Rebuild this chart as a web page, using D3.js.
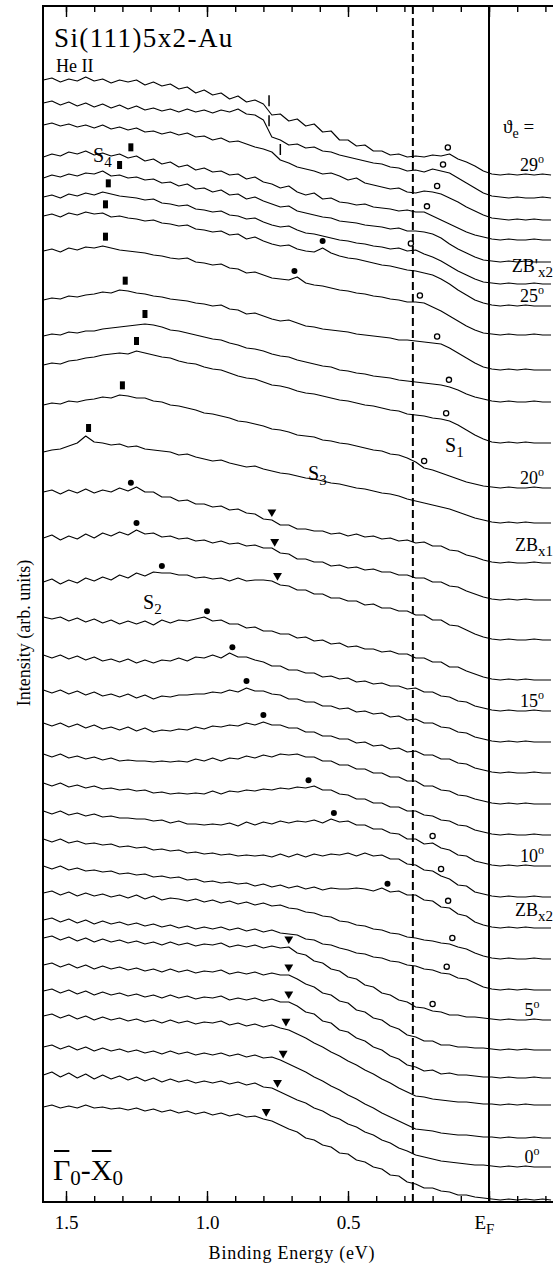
<!DOCTYPE html>
<html>
<head>
<meta charset="UTF-8">
<title>Si(111)5x2-Au He II</title>
<script src="https://cdn.jsdelivr.net/npm/d3@7"></script>
<style>
  body { margin: 0; background: #fff; }
  svg text { font-family: "Liberation Serif", "Times New Roman", Times, "DejaVu Serif", serif; fill: #000; }
</style>
</head>
<body>
<svg id="chart" width="553" height="1267"></svg>
<script>

// binding energy grid (eV) shared by every spectrum
var energies = [1.58,1.55,1.52,1.49,1.46,1.43,1.40,1.37,1.34,1.31,1.28,1.25,1.22,1.19,1.16,1.13,1.10,1.07,1.04,1.01,
                0.98,0.95,0.92,0.89,0.86,0.83,0.80,0.77,0.74,0.71,0.68,0.65,0.62,0.59,0.56,0.53,0.50,0.47,0.44,0.41,
                0.38,0.35,0.32,0.29,0.26,0.23,0.20,0.17,0.14,0.11,0.08,0.05,0.02,-0.01,-0.04,-0.07,-0.10,-0.13,-0.16,-0.19,
                -0.22];

// intensity above each spectrum's own background, top spectrum first
var spectra = [
  [95,97,93,96,94,98,94,96,92,95,93,95,90,93,89,91,86,88,82,85,80,82,76,79,73,75,71,60,61,54,56,49,51,43,44,35,35,29,30,24,24,20,21,18,19,18,20,19,21,16,13,9,4,1,0,1,0,1,0,1,0],
  [95,97,93,96,92,95,91,94,90,93,89,92,88,90,87,89,86,89,86,88,85,88,86,89,84,83,78,61,58,53,54,50,51,47,46,43,41,39,37,35,34,31,30,27,28,26,29,27,25,20,15,10,5,2,1,0,1,0,0,1,0],
  [95,97,94,96,93,95,92,95,91,93,90,92,88,89,86,88,85,87,83,84,80,82,78,79,76,73,71,68,60,57,53,51,49,46,47,44,40,42,37,35,33,31,32,28,27,29,28,26,22,18,13,9,5,2,1,0,1,0,1,0,0],
  [83,86,84,88,86,89,85,87,84,86,82,84,79,81,76,78,73,75,70,72,68,69,65,66,61,63,58,56,52,54,48,45,47,41,42,38,37,35,36,33,32,31,29,30,28,28,24,20,16,12,8,5,3,1,0,1,0,0,1,0,0],
  [84,87,85,88,86,89,88,91,86,87,84,85,82,83,79,80,76,78,73,74,70,72,67,68,63,65,61,58,55,56,51,49,47,45,44,41,40,39,37,36,35,33,34,31,31,30,28,24,18,13,9,5,2,1,0,1,0,1,0,0,0],
  [87,89,86,90,88,91,89,92,90,88,87,86,84,85,81,80,78,79,75,74,72,73,69,68,65,66,62,59,57,58,54,51,50,48,46,44,43,41,40,38,37,35,36,33,34,30,27,23,18,13,9,5,2,1,0,1,0,0,1,0,0],
  [90,92,89,93,91,94,92,93,89,90,88,87,85,86,83,82,80,81,77,76,74,75,71,72,67,69,65,62,60,61,57,55,54,58,53,50,48,47,45,43,41,40,38,36,35,33,31,27,22,16,11,6,3,1,0,1,0,1,0,0,0],
  [84,86,83,87,85,88,87,89,87,85,84,83,82,80,79,77,76,77,73,72,70,71,67,66,62,63,60,57,56,55,58,52,50,49,47,45,44,42,41,39,38,36,35,33,33,32,28,24,19,14,9,5,2,1,0,1,0,0,1,0,0],
  [70,72,71,74,73,75,76,78,77,80,79,77,76,74,73,71,70,69,67,66,64,65,61,60,56,57,54,51,49,50,47,44,43,41,40,39,38,36,35,34,33,32,30,30,29,28,27,26,22,17,12,7,3,1,0,1,0,1,0,0,0],
  [66,68,67,70,69,71,71,73,74,75,76,77,78,77,75,72,71,69,67,65,63,62,59,57,54,53,51,48,46,45,42,40,38,36,35,32,31,29,28,26,25,24,22,21,20,19,18,17,15,12,8,5,3,1,0,1,0,0,1,0,0],
  [78,80,79,82,83,85,86,88,89,90,89,92,90,88,86,85,82,80,79,76,74,73,70,67,65,64,61,58,57,55,52,50,49,47,45,43,42,40,38,37,35,33,32,29,28,27,25,24,22,18,13,8,4,1,0,1,0,1,0,0,0],
  [83,85,84,87,86,88,89,91,90,93,92,90,90,87,86,83,82,80,78,75,74,72,70,67,66,64,62,59,58,56,53,52,51,48,47,45,44,42,40,38,37,34,33,30,26,20,18,15,12,9,6,4,2,1,0,1,0,0,1,0,0],
  [71,73,74,77,80,87,81,80,78,79,76,77,74,73,72,71,68,69,66,64,62,63,60,58,56,57,54,52,50,49,47,45,44,42,40,39,37,35,34,32,30,29,27,24,22,20,18,16,14,11,8,5,3,1,0,1,0,1,0,0,0],
  [71,73,69,73,70,74,70,73,71,75,72,76,71,71,66,66,62,63,59,59,56,57,53,54,50,49,44,43,38,38,34,34,32,32,29,30,27,29,26,27,24,25,22,23,20,21,17,17,13,12,8,6,3,1,0,1,0,0,1,0,0],
  [62,65,60,64,61,66,62,67,64,68,65,70,66,67,63,64,61,62,59,60,57,59,56,57,54,55,52,52,47,46,41,41,38,38,34,35,32,33,30,31,28,28,25,25,22,22,18,18,14,13,9,6,3,1,0,1,0,1,0,0,0],
  [58,61,56,60,57,62,59,63,60,65,62,67,64,68,67,67,65,65,62,63,61,62,59,62,59,60,60,59,55,54,50,50,46,46,42,42,39,39,35,36,32,32,29,29,25,25,20,20,15,14,10,6,3,1,0,1,0,0,1,0,0],
  [63,61,63,59,62,58,61,57,60,56,59,56,59,55,60,57,60,59,61,63,59,60,56,56,52,53,49,49,46,46,42,43,39,40,36,37,33,34,31,31,28,29,26,26,22,22,18,18,13,13,9,6,3,1,0,1,0,1,0,0,0],
  [56,53,56,52,55,51,54,50,52,49,52,48,51,48,51,50,53,50,54,53,56,53,58,54,54,51,49,45,45,41,41,38,38,34,35,32,33,29,30,27,28,25,25,22,23,19,19,15,14,10,9,5,3,1,0,1,0,0,1,0,0],
  [52,49,52,48,51,47,50,46,48,45,48,44,47,43,46,45,47,47,48,48,50,49,52,50,54,51,51,48,47,43,43,40,40,36,36,33,34,30,31,28,29,25,26,22,23,19,19,15,14,10,9,5,3,1,0,1,0,1,0,0,0],
  [50,47,50,46,49,45,48,44,46,43,46,42,45,41,43,42,44,43,46,44,47,46,48,47,50,48,51,48,48,45,45,41,41,37,37,34,34,30,31,27,28,24,25,21,22,18,18,14,14,10,9,5,3,1,0,1,0,0,1,0,0],
  [50,47,50,46,48,45,47,44,46,43,44,43,43,42,43,42,43,42,45,43,46,43,46,45,48,46,49,47,50,49,50,47,47,43,43,39,39,35,35,31,31,27,27,23,23,18,18,14,13,9,8,5,3,1,0,1,0,1,0,0,0],
  [52,49,52,48,50,47,49,46,47,45,46,44,45,42,43,41,42,41,42,41,44,41,44,43,45,44,46,45,47,46,48,47,49,45,45,41,40,36,36,32,32,28,28,24,24,20,19,15,14,10,9,5,3,1,0,1,0,0,1,0,0],
  [55,52,55,51,53,50,52,49,50,48,48,47,47,45,46,43,45,42,42,41,42,41,43,40,44,41,44,42,45,43,45,44,46,43,47,44,45,41,41,37,37,33,32,27,27,22,23,18,16,11,10,5,3,1,0,1,0,1,0,0,0],
  [58,55,58,54,56,53,54,52,53,50,51,49,50,47,48,46,47,44,45,43,44,42,43,41,42,41,42,40,43,40,43,40,43,41,43,42,44,41,44,41,42,38,38,33,32,27,26,21,18,12,11,5,3,1,0,1,0,0,1,0,0],
  [62,59,62,58,60,57,58,56,57,54,55,53,54,51,52,50,51,48,49,46,47,45,46,44,45,42,44,41,43,40,42,39,41,38,40,39,39,40,39,37,40,36,37,33,33,28,27,21,20,14,12,6,3,1,0,1,0,1,0,0,0],
  [66,68,64,67,63,66,63,65,62,64,61,64,60,63,59,61,60,58,60,57,59,56,58,55,57,54,56,53,54,51,50,47,46,43,42,38,37,34,33,30,29,26,25,22,21,19,18,16,15,12,10,6,3,1,0,1,0,0,1,0,0],
  [70,72,68,71,67,70,66,69,66,68,65,67,64,66,63,65,62,64,61,63,61,63,60,62,59,61,58,60,57,56,55,51,50,46,45,42,40,37,36,33,32,29,28,25,24,21,20,17,16,12,11,7,3,1,0,1,0,1,0,0,0],
  [82,84,80,83,79,82,78,81,78,80,77,79,76,78,75,78,75,77,74,76,75,77,73,75,73,75,72,74,72,73,67,65,59,57,51,49,43,41,35,33,27,25,20,18,13,12,9,8,5,5,3,3,2,1,0,1,0,0,1,0,0],
  [85,87,83,86,82,85,81,84,81,83,80,82,79,81,78,81,78,80,77,79,78,80,76,78,76,78,75,77,75,75,71,66,63,57,55,49,47,40,38,32,30,24,21,15,13,9,9,5,5,3,3,2,2,1,0,1,0,1,0,0,0],
  [87,89,85,88,84,87,83,86,83,85,82,84,81,83,80,83,80,82,79,81,80,82,78,80,78,80,77,79,76,76,72,66,64,57,55,48,46,40,37,31,28,22,19,13,11,7,8,4,5,3,3,2,1,1,0,1,0,0,1,0,0],
  [89,91,87,90,86,89,85,88,85,87,84,86,83,85,82,85,82,84,81,83,82,84,80,82,79,81,78,80,77,75,71,67,62,58,53,49,44,40,35,31,26,22,17,13,9,8,6,5,4,3,3,2,1,1,0,1,0,1,0,0,0],
  [91,93,89,92,88,91,87,90,87,89,86,88,85,87,84,87,84,86,83,85,83,85,82,84,81,83,80,81,78,74,70,66,61,57,52,48,43,39,34,30,25,21,17,13,9,8,7,5,4,3,3,2,1,1,0,1,0,0,1,0,0],
  [92,95,90,94,89,93,88,92,88,91,87,90,86,89,85,88,85,87,84,86,84,86,83,85,82,84,80,79,75,71,67,64,59,56,51,48,43,40,35,32,27,24,19,16,12,10,8,6,5,4,3,2,2,1,0,1,0,1,0,0,0],
  [93,95,92,94,92,95,92,93,91,92,90,92,89,91,88,90,87,89,86,88,85,87,84,86,83,84,81,79,75,71,68,62,60,55,53,47,46,40,38,33,31,25,24,18,16,12,12,9,8,5,5,3,2,1,0,1,0,1,0,1,0]
];

// vertical stacking offset of each spectrum (arb. units)
var offsets = [1027,1004,982,962,940,918,896,867,832,800,759,714,679,639,602,562,522,491,460,429,
               398,367,336,305,274,243,212,182,152,124,97,64,35,2];

// feature markers: spectrum number (1 = top) and binding energy
var s4Curve = [4,5,6,7,8,9,10,11,12,13];
var s4Energy = [1.27,1.31,1.35,1.36,1.36,1.29,1.22,1.25,1.30,1.42];
var s1Curve = [1,2,3,4,6,8,9,10,11,12,23,24,25,26,27,28];
var s1Energy = [0.146,0.163,0.184,0.22,0.277,0.245,0.184,0.142,0.152,0.23,0.20,0.17,0.145,0.13,0.15,0.20];
var s2Curve = [7,8,14,15,16,17,18,19,20,22,23,25];
var s2Energy = [0.59,0.69,1.27,1.25,1.16,1.00,0.91,0.86,0.80,0.64,0.55,0.36];
var s3Curve = [14,15,16,28,29,30,31,32,33,34];
var s3Energy = [0.77,0.76,0.75,0.71,0.71,0.71,0.72,0.73,0.75,0.79];
var barCurve = [1,2,3];
var barEnergy = [0.78,0.78,0.74];

// emission angle labels on the right
var angleText = ["29","ZB'","25","20","ZB","15","10","ZB","5","0"];
var angleSub = ["","x2","","","x1","","","x2","",""];
var angleCurve = [1,6,7,12,14,18,23,25,28,33];

var majorTicks = [1.5,1.0,0.5,0];
var minorTicks = [1.5,1.4,1.3,1.2,1.1,1.0,0.9,0.8,0.7,0.6,0.5,0.4,0.3,0.2,0.1,0,-0.1,-0.2];
var dashedEnergy = 0.27;

var svg = d3.select("#chart");
var frameL = 43, frameR = 552, frameT = 6, frameB = 1202;

var x = d3.scaleLinear().domain([1.5, 0]).range([66, 489]);
var y = d3.scaleLinear().domain([0, 1200]).range([1202, 2]);

svg.append("defs").append("clipPath").attr("id", "plotclip")
  .append("rect").attr("x", frameL).attr("y", frameT).attr("width", frameR - frameL).attr("height", frameB - frameT);

// spectra
var line = d3.line()
  .x(function (d, i) { return x(energies[i]); })
  .y(function (d) { return y(d); });

svg.append("g").attr("clip-path", "url(#plotclip)")
  .selectAll("path")
  .data(spectra)
  .enter().append("path")
  .attr("d", function (s, k) { return line(s.map(function (v) { return v + offsets[k]; })); })
  .attr("fill", "none")
  .attr("stroke", "#000")
  .attr("stroke-width", 1.1)
  .attr("stroke-linejoin", "round");

// level of spectrum k (1-based) at energy e, in pixels
function levelY(k, e) {
  var s = spectra[k - 1];
  for (var i = 0; i < energies.length - 1; i++) {
    if (e <= energies[i] && e >= energies[i + 1]) {
      var t = (energies[i] - e) / (energies[i] - energies[i + 1]);
      return y(offsets[k - 1] + s[i] + t * (s[i + 1] - s[i]));
    }
  }
  return y(offsets[k - 1] + s[0]);
}

// reference lines
svg.append("line")
  .attr("x1", x(dashedEnergy)).attr("x2", x(dashedEnergy))
  .attr("y1", frameT).attr("y2", frameB)
  .attr("stroke", "#000").attr("stroke-width", 2).attr("stroke-dasharray", "8,4");
svg.append("line")
  .attr("x1", x(0)).attr("x2", x(0))
  .attr("y1", frameT).attr("y2", frameB)
  .attr("stroke", "#000").attr("stroke-width", 2);

// markers
var marks = svg.append("g");
s4Curve.forEach(function (k, j) {
  marks.append("rect")
    .attr("x", x(s4Energy[j]) - 2.5).attr("y", levelY(k, s4Energy[j]) - 14)
    .attr("width", 5).attr("height", 8).attr("fill", "#000");
});
s1Curve.forEach(function (k, j) {
  marks.append("circle")
    .attr("cx", x(s1Energy[j])).attr("cy", levelY(k, s1Energy[j]) - 7)
    .attr("r", 2.6).attr("fill", "#fff").attr("stroke", "#000").attr("stroke-width", 1.3);
});
s2Curve.forEach(function (k, j) {
  marks.append("circle")
    .attr("cx", x(s2Energy[j])).attr("cy", levelY(k, s2Energy[j]) - 7)
    .attr("r", 3).attr("fill", "#000");
});
var tri = d3.symbol().type(d3.symbolTriangle).size(34);
s3Curve.forEach(function (k, j) {
  marks.append("path")
    .attr("d", tri())
    .attr("transform", "translate(" + x(s3Energy[j]) + "," + (levelY(k, s3Energy[j]) - 8) + ") rotate(180)")
    .attr("fill", "#000");
});
barCurve.forEach(function (k, j) {
  var yy = levelY(k, barEnergy[j]);
  marks.append("line")
    .attr("x1", x(barEnergy[j])).attr("x2", x(barEnergy[j]))
    .attr("y1", yy - 16).attr("y2", yy - 5)
    .attr("stroke", "#000").attr("stroke-width", 1.5);
});

// frame
svg.append("rect")
  .attr("x", frameL).attr("y", frameT).attr("width", frameR - frameL + 4).attr("height", frameB - frameT)
  .attr("fill", "none").attr("stroke", "#000").attr("stroke-width", 2);

// axes (ticks inside the frame)
var minorAxis = d3.axisBottom(x).tickValues(minorTicks).tickSize(-6).tickFormat("");
var majorAxis = d3.axisBottom(x).tickValues(majorTicks).tickSize(-11).tickPadding(14)
  .tickFormat(function (d) { return d === 0 ? "" : d3.format(".1f")(d); });

svg.append("g").attr("transform", "translate(0," + frameB + ")").call(minorAxis);
var gx = svg.append("g").attr("transform", "translate(0," + frameB + ")").call(majorAxis);
svg.append("g").attr("transform", "translate(0," + frameT + ")")
  .call(d3.axisTop(x).tickValues(minorTicks).tickSize(-6).tickFormat(""));
svg.append("g").attr("transform", "translate(0," + frameT + ")")
  .call(d3.axisTop(x).tickValues(majorTicks).tickSize(-11).tickFormat(""));

svg.selectAll(".domain").remove();
svg.selectAll(".tick line").attr("stroke", "#000").attr("stroke-width", 1.4);
svg.selectAll("g").attr("font-family", null);
gx.selectAll("text").attr("font-size", 19);
var ef = gx.selectAll(".tick").filter(function (d) { return d === 0; }).select("text")
  .attr("text-anchor", "start").attr("x", -15);
ef.append("tspan").text("E");
ef.append("tspan").attr("font-size", 15).attr("dy", 5).text("F");

// axis titles
svg.append("text")
  .attr("x", 292).attr("y", 1259)
  .attr("text-anchor", "middle").attr("font-size", 18).attr("letter-spacing", 0.8)
  .text("Binding Energy (eV)");
svg.append("text")
  .attr("transform", "translate(30,633) rotate(-90)")
  .attr("text-anchor", "middle").attr("font-size", 18)
  .text("Intensity (arb. units)");

// title block
svg.append("text").attr("x", 54).attr("y", 47).attr("font-size", 27).attr("letter-spacing", 1.4)
  .text("Si(111)5x2-Au");
svg.append("text").attr("x", 56).attr("y", 72).attr("font-size", 18).text("He II");

// theta_e =
var th = svg.append("text").attr("x", 503).attr("y", 133).attr("font-size", 19);
th.append("tspan").text("\u03D1");
th.append("tspan").attr("font-size", 14).attr("dy", 5).text("e");
th.append("tspan").attr("dy", -5).text(" =");

// angle labels
angleText.forEach(function (t, j) {
  var yy = y(offsets[angleCurve[j] - 1]);
  var lab = svg.append("text").attr("font-size", 18);
  if (angleSub[j] === "") {
    lab.attr("x", 532).attr("y", yy - 4).attr("text-anchor", "middle");
    lab.append("tspan").text(t);
    lab.append("tspan").attr("font-size", 12).attr("dy", -8).text("o");
  } else {
    lab.attr("x", 553).attr("y", yy - 12).attr("text-anchor", "end");
    lab.append("tspan").text(t);
    lab.append("tspan").attr("font-size", 15).attr("dy", 5).text(angleSub[j]);
  }
});

// state labels
function stateLabel(xp, yp, n) {
  var t = svg.append("text").attr("x", xp).attr("y", yp).attr("font-size", 20);
  t.append("tspan").text("S");
  t.append("tspan").attr("font-size", 15).attr("dy", 5).text(n);
}
stateLabel(93, 162, "4");
stateLabel(445, 452, "1");
stateLabel(308, 480, "3");
stateLabel(143, 609, "2");

// Gamma0 - X0 direction label with overbars
var px = 53, base = 1180;
function piece(str, size, dy, bar) {
  var t = svg.append("text").attr("x", px).attr("y", base + dy).attr("font-size", size).text(str);
  var w = t.node().getComputedTextLength();
  if (bar) {
    svg.append("line").attr("x1", px + 1).attr("x2", px + w - 1)
      .attr("y1", base - 29).attr("y2", base - 29)
      .attr("stroke", "#000").attr("stroke-width", 2);
  }
  px += w;
}
piece("\u0393", 30, 0, true);
piece("0", 21, 5, false);
piece("-", 30, 0, false);
piece("X", 30, 0, true);
piece("0", 21, 5, false);

</script>
</body>
</html>
